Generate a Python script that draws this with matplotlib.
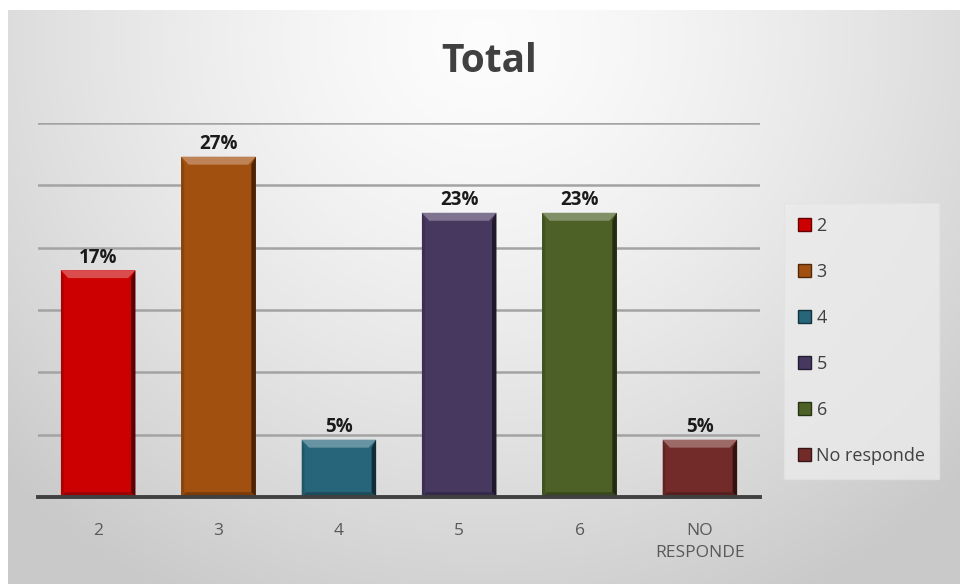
import numpy as np
import matplotlib.pyplot as plt
from matplotlib.patches import Polygon, Patch
import matplotlib.colors as mcolors

# chart data (bar heights, labels as printed)
categories = ['2', '3', '4', '5', '6', 'NO\nRESPONDE']
legend_labels = ['2', '3', '4', '5', '6', 'No responde']
values = [18.2, 27.3, 4.6, 22.8, 22.8, 4.6]
labels = ['17%', '27%', '5%', '23%', '23%', '5%']
colors = ['#CC0000', '#A2500F', '#27657A', '#473860', '#4D6127', '#722B29']

plt.rcParams['font.family'] = ['Open Sans', 'DejaVu Sans']

fig = plt.figure(figsize=(9.6, 5.84), dpi=100)

# gradient background for the chart area
bg = fig.add_axes([8 / 960, 0, 952 / 960, 574 / 584], zorder=-10)
yy, xx = np.mgrid[0:1:300j, 0:1:500j]
d = np.sqrt(((xx - 0.5) / 0.7) ** 2 + ((yy - 0.05) / 1.1) ** 2)
shade = 0.99 - 0.2 * np.clip(d, 0, 1) ** 1.4
bg.imshow(np.dstack([shade] * 3), aspect='auto', extent=[0, 1, 1, 0])
bg.set_axis_off()

ax = fig.add_axes([38 / 960, 87 / 584, 722 / 960, 374 / 584])
ax.patch.set_alpha(0)
x = np.arange(len(values))
bars = ax.bar(x, values, width=0.62, color=colors, zorder=3)
ax.set_xlim(-0.5, len(values) - 0.5)
ax.set_ylim(0, 30)
ax.set_yticks(np.arange(0, 31, 5))
ax.yaxis.grid(True, color='#a3a3a3', linewidth=1.8, zorder=0)
ax.tick_params(axis='y', left=False, labelleft=False)
ax.tick_params(axis='x', length=0, pad=19, labelsize=12.5, labelcolor='#595959')
ax.set_xticks(x)
ax.set_xticklabels(categories, linespacing=1.45)
for s in ['top', 'right', 'left']:
    ax.spines[s].set_visible(False)
ax.spines['bottom'].set_color('#404040')
ax.spines['bottom'].set_linewidth(2.8)
ax.spines['bottom'].set_zorder(5)

# bevel effect on each bar
ppy = 30 / 374.0
for b, c, lab in zip(bars, colors, labels):
    x0, w, h = b.get_x(), b.get_width(), b.get_height()
    bw = w * 0.1
    bh = 8 * ppy
    base = np.array(mcolors.to_rgb(c))
    light = np.clip(base + (1 - base) * 0.3, 0, 1)
    dark = base * 0.45
    mid = base * 0.75
    ax.add_patch(Polygon([[x0, h], [x0 + w, h], [x0 + w - bw, h - bh], [x0 + bw, h - bh]],
                         closed=True, color=light, zorder=4, lw=0))
    ax.add_patch(Polygon([[x0 + w, h], [x0 + w, 0], [x0 + w - bw * 0.6, bh * 0.6], [x0 + w - bw * 0.6, h - bh]],
                         closed=True, color=dark, zorder=4, lw=0))
    ax.add_patch(Polygon([[x0, 0], [x0 + w, 0], [x0 + w - bw * 0.6, bh * 0.6], [x0 + bw * 0.6, bh * 0.6]],
                         closed=True, color=mid, zorder=4, lw=0))
    ax.add_patch(Polygon([[x0, h], [x0, 0], [x0 + bw * 0.4, bh * 0.6], [x0 + bw * 0.4, h - bh]],
                         closed=True, color=mid, zorder=4, lw=0, alpha=0.6))
    ax.text(x0 + w / 2, h + 0.2, lab, ha='center', va='bottom',
            fontsize=13.5, fontweight='bold', color='#1a1a1a', zorder=6)

fig.text(0.51, 1 - 61 / 584, 'Total', ha='center', va='center', fontsize=28,
         fontweight='bold', color='#404040')

handles = [Patch(facecolor=c, edgecolor=np.array(mcolors.to_rgb(c)) * 0.5, linewidth=1)
           for c in colors]
leg = fig.legend(handles, legend_labels, loc='center left', bbox_to_anchor=(784 / 960, 1 - 341 / 584),
                 frameon=True, fontsize=13, handlelength=0.75, handleheight=0.75,
                 handletextpad=0.3, labelspacing=1.55, borderpad=0.75, fancybox=False,
                 borderaxespad=0)
leg.get_frame().set_facecolor('#ebebeb')
leg.get_frame().set_edgecolor('#e2e2e2')
for t in leg.get_texts():
    t.set_color('#404040')

fig.savefig('out.png', dpi=100)
